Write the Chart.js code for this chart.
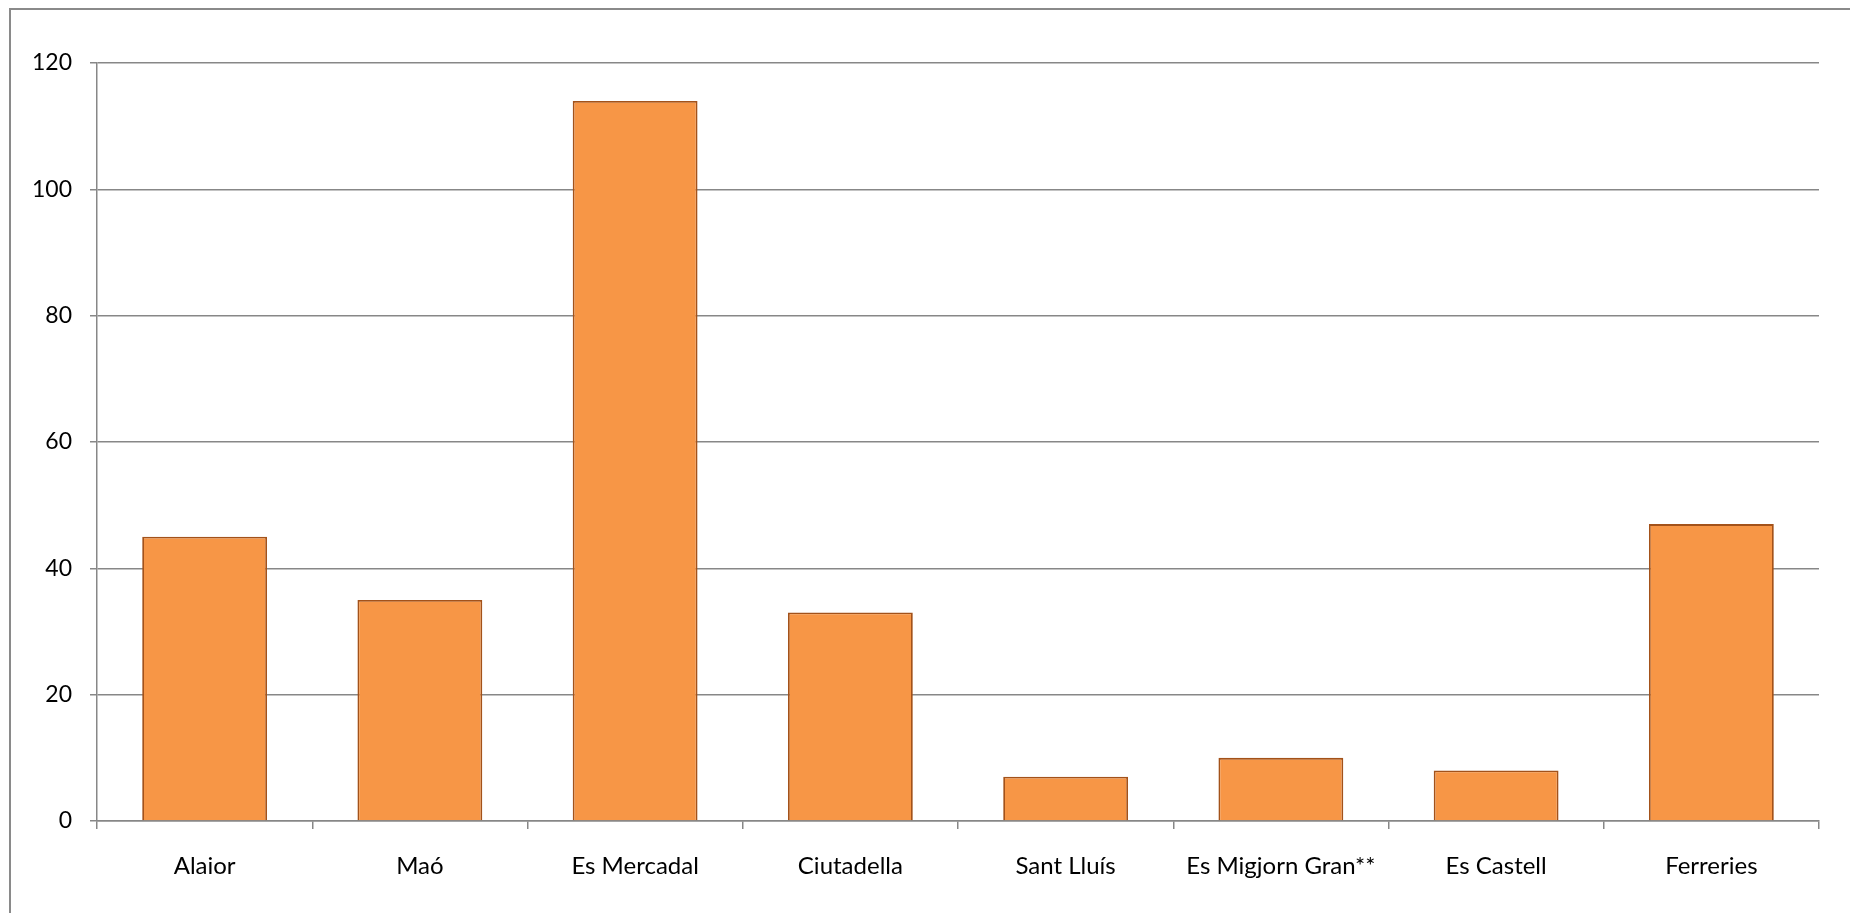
<!DOCTYPE html>
<html>
<head>
<meta charset="utf-8">
<script src="https://cdn.jsdelivr.net/npm/chart.js@4"></script>
<style>
  html, body { margin: 0; padding: 0; background: #fff; overflow: hidden; }
  #wrap { position: relative; width: 1850px; height: 913px; }
  #frame { position: absolute; left: 9px; top: 8px; width: 1900px; height: 1000px; border: 2px solid #8a8a8a; box-sizing: border-box; }
  canvas { position: absolute; left: 0; top: 0; }
</style>
</head>
<body>
<div id="wrap">
  <div id="frame"></div>
  <canvas id="myChart" width="1850" height="913"></canvas>
</div>
<script>
// municipis
var categories = ['Alaior', 'Maó', 'Es Mercadal', 'Ciutadella', 'Sant Lluís', 'Es Migjorn Gran**', 'Es Castell', 'Ferreries'];
var values = [45, 35, 114, 33, 7, 10, 8, 47];
var yTicks = [0, 20, 40, 60, 80, 100, 120];

var gridGrey = '#878787';

var ctx = document.getElementById('myChart').getContext('2d');
var myChart = new Chart(ctx, {
  type: 'bar',
  data: {
    labels: categories,
    datasets: [{
      data: values,
      backgroundColor: '#F79646',
      borderColor: '#A3521A',
      borderWidth: 1.8,
      barPercentage: 0.58,
      categoryPercentage: 1
    }]
  },
  options: {
    responsive: false,
    animation: false,
    devicePixelRatio: 1,
    layout: { padding: { left: 0, right: 31, top: 63, bottom: 0 } },
    plugins: { legend: { display: false }, tooltip: { enabled: false } },
    scales: {
      x: {
        grid: { offset: true, drawOnChartArea: false, drawTicks: true, tickLength: 8, color: gridGrey, lineWidth: 1.5 },
        border: { display: true, color: gridGrey, width: 1.5 },
        ticks: { color: '#000', padding: 23, font: { family: 'Lato', size: 24 } },
        afterFit: function (axis) { axis.height = 92; }
      },
      y: {
        min: 0,
        max: 120,
        afterBuildTicks: function (axis) { axis.ticks = yTicks.map(function (v) { return { value: v }; }); },
        grid: { color: gridGrey, lineWidth: 1.5, tickLength: 7 },
        border: { display: true, color: gridGrey, width: 1.5 },
        ticks: { color: '#000', padding: 18, font: { family: 'Lato', size: 23 } },
        afterFit: function (axis) { axis.width = 97; }
      }
    }
  }
});
</script>
</body>
</html>
